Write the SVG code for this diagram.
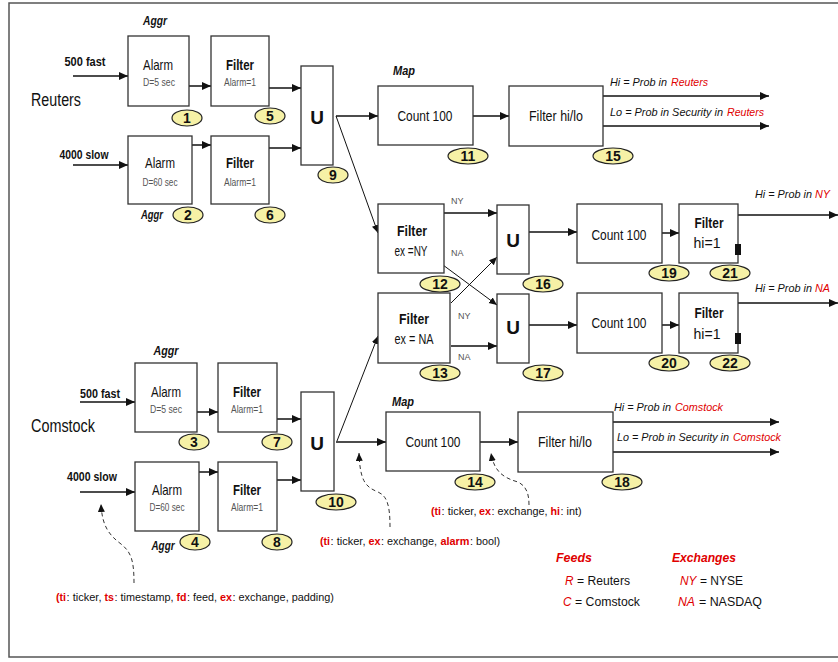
<svg xmlns="http://www.w3.org/2000/svg" width="838" height="662" viewBox="0 0 838 662">
<style>
text{font-family:"Liberation Sans",Arial,sans-serif;fill:#111}
.box{fill:#fff;stroke:#333;stroke-width:1.3}
.ell{fill:#f6f1a6;stroke:#222;stroke-width:1.2}
.num{font-size:14px;font-weight:bold;text-anchor:middle}
.t14{font-size:14px;text-anchor:middle}
.a15{font-size:15px;text-anchor:middle}
.b14{font-size:14px;font-weight:bold;text-anchor:middle}
.sub{font-size:11px;fill:#555;text-anchor:middle}
.u{font-size:19px;font-weight:bold;text-anchor:middle}
.in{font-size:13px;font-weight:bold;text-anchor:middle}
.tag{font-size:12px;font-weight:bold;font-style:italic;text-anchor:middle}
.out{font-size:11.5px;font-style:italic}
.outr{font-size:11.5px;font-style:italic;fill:#e00000}
.small{font-size:9px;fill:#555}
.arr{stroke:#111;stroke-width:1.5;fill:none}
.thin{stroke:#111;stroke-width:1;fill:none}
.dash{stroke:#333;stroke-width:1;fill:none;stroke-dasharray:4,3}
.note{font-size:11.3px}
.rb{font-size:11.3px;fill:#e00000;font-weight:bold}
.lg{font-size:12.5px}
.lr{font-size:12.5px;font-style:italic;fill:#e00000}
.lh{font-size:13px;font-weight:bold;font-style:italic;fill:#e00000}
</style>
<defs>
<marker id="ah" markerUnits="userSpaceOnUse" markerWidth="10" markerHeight="10" refX="9" refY="4" orient="auto">
<path d="M0,0 L9,4 L0,8 z" fill="#111"/>
</marker>
<marker id="ahs" markerUnits="userSpaceOnUse" markerWidth="10" markerHeight="10" refX="8" refY="3.5" orient="auto">
<path d="M0,0 L8,3.5 L0,7 z" fill="#111"/>
</marker>
</defs>
<rect x="9" y="3" width="900" height="654" fill="#fff" stroke="#555" stroke-width="1.5"/>

<text x="31" y="106" style="font-size:18px" textLength="50" lengthAdjust="spacingAndGlyphs">Reuters</text>
<text x="31" y="432" style="font-size:18px" textLength="64" lengthAdjust="spacingAndGlyphs">Comstock</text>
<text class="in" x="85" y="66" textLength="41" lengthAdjust="spacingAndGlyphs">500 fast</text>
<text class="in" x="84" y="159" textLength="49" lengthAdjust="spacingAndGlyphs">4000 slow</text>
<text class="in" x="100" y="398" textLength="40" lengthAdjust="spacingAndGlyphs">500 fast</text>
<text class="in" x="92" y="481" textLength="50" lengthAdjust="spacingAndGlyphs">4000 slow</text>
<text class="tag" x="155" y="25" textLength="24" lengthAdjust="spacingAndGlyphs">Aggr</text>
<text class="tag" x="152" y="219" textLength="22" lengthAdjust="spacingAndGlyphs">Aggr</text>
<text class="tag" x="166" y="355" textLength="25" lengthAdjust="spacingAndGlyphs">Aggr</text>
<text class="tag" x="163" y="550" textLength="23" lengthAdjust="spacingAndGlyphs">Aggr</text>
<text class="tag" x="404" y="75" textLength="22" lengthAdjust="spacingAndGlyphs">Map</text>
<text class="tag" x="403" y="406" textLength="22" lengthAdjust="spacingAndGlyphs">Map</text>

<g id="connectors">
<line class="arr" x1="73" y1="76" x2="128" y2="76" marker-end="url(#ah)"/>
<line class="arr" x1="73" y1="165" x2="128" y2="165" marker-end="url(#ah)"/>
<line class="arr" x1="189" y1="86" x2="211" y2="86" marker-end="url(#ah)"/>
<line class="arr" x1="191" y1="145" x2="211" y2="145" marker-end="url(#ah)"/>
<line class="arr" x1="269" y1="88" x2="301" y2="88" marker-end="url(#ah)"/>
<line class="arr" x1="269" y1="148" x2="301" y2="148" marker-end="url(#ah)"/>
<line class="arr" x1="336" y1="116" x2="378" y2="116" marker-end="url(#ah)"/>
<line class="thin" x1="336" y1="116" x2="378" y2="233" marker-end="url(#ahs)"/>
<line class="arr" x1="473" y1="116" x2="509" y2="116" marker-end="url(#ah)"/>
<line class="arr" x1="603" y1="96" x2="769" y2="96" marker-end="url(#ah)"/>
<line class="arr" x1="603" y1="126" x2="769" y2="126" marker-end="url(#ah)"/>
<line class="arr" x1="441" y1="213" x2="497" y2="213" marker-end="url(#ah)"/>
<line class="thin" x1="443" y1="265" x2="497" y2="305" marker-end="url(#ahs)"/>
<line class="thin" x1="451" y1="303" x2="497" y2="257" marker-end="url(#ahs)"/>
<line class="arr" x1="451" y1="346" x2="497" y2="346" marker-end="url(#ah)"/>
<line class="arr" x1="529" y1="232" x2="577" y2="232" marker-end="url(#ah)"/>
<line class="arr" x1="529" y1="325" x2="577" y2="325" marker-end="url(#ah)"/>
<line class="arr" x1="662" y1="233" x2="679" y2="233" marker-end="url(#ah)"/>
<line class="arr" x1="662" y1="325" x2="679" y2="325" marker-end="url(#ah)"/>
<line class="arr" x1="738" y1="215" x2="838" y2="215" marker-end="url(#ah)"/>
<line class="arr" x1="738" y1="303" x2="838" y2="303" marker-end="url(#ah)"/>
<line class="arr" x1="80" y1="402" x2="135" y2="402" marker-end="url(#ah)"/>
<line class="arr" x1="80" y1="492" x2="135" y2="492" marker-end="url(#ah)"/>
<line class="arr" x1="197" y1="412" x2="218" y2="412" marker-end="url(#ah)"/>
<line class="arr" x1="197" y1="472" x2="218" y2="472" marker-end="url(#ah)"/>
<line class="arr" x1="277" y1="419" x2="301" y2="419" marker-end="url(#ah)"/>
<line class="arr" x1="277" y1="480" x2="301" y2="480" marker-end="url(#ah)"/>
<line class="arr" x1="336" y1="442" x2="386" y2="442" marker-end="url(#ah)"/>
<line class="thin" x1="337" y1="441" x2="378" y2="336" marker-end="url(#ahs)"/>
<line class="arr" x1="480" y1="442" x2="518" y2="442" marker-end="url(#ah)"/>
<line class="arr" x1="613" y1="422" x2="779" y2="422" marker-end="url(#ah)"/>
<line class="arr" x1="613" y1="452" x2="779" y2="452" marker-end="url(#ah)"/>
<path class="dash" d="M134,583 C134,560 131,552 121,544 C109,535 102,526 101,504" marker-end="url(#ahs)"/>
<path class="dash" d="M390,527 C390,505 387,496 378,492 C366,487 360,482 359,453" marker-end="url(#ahs)"/>
<path class="dash" d="M529,505 C529,493 526,486 518,482 C504,478 494,472 491,453" marker-end="url(#ahs)"/>
</g>

<text class="small" x="451" y="204">NY</text>
<text class="small" x="451" y="256">NA</text>
<text class="small" x="458" y="319">NY</text>
<text class="small" x="458" y="360">NA</text>

<text class="out" x="610" y="86" textLength="57" lengthAdjust="spacingAndGlyphs">Hi = Prob in</text>
<text class="outr" x="671" y="86" textLength="37" lengthAdjust="spacingAndGlyphs">Reuters</text>
<text class="out" x="610" y="116" textLength="113" lengthAdjust="spacingAndGlyphs">Lo = Prob in Security in</text>
<text class="outr" x="727" y="116" textLength="37" lengthAdjust="spacingAndGlyphs">Reuters</text>
<text class="out" x="755" y="198" textLength="57" lengthAdjust="spacingAndGlyphs">Hi = Prob in</text>
<text class="outr" x="815" y="198" textLength="15" lengthAdjust="spacingAndGlyphs">NY</text>
<text class="out" x="755" y="292" textLength="57" lengthAdjust="spacingAndGlyphs">Hi = Prob in</text>
<text class="outr" x="815" y="292" textLength="15" lengthAdjust="spacingAndGlyphs">NA</text>
<text class="out" x="614" y="411" textLength="57" lengthAdjust="spacingAndGlyphs">Hi = Prob in</text>
<text class="outr" x="675" y="411" textLength="48" lengthAdjust="spacingAndGlyphs">Comstock</text>
<text class="out" x="617" y="441" textLength="112" lengthAdjust="spacingAndGlyphs">Lo = Prob in Security in</text>
<text class="outr" x="733" y="441" textLength="48" lengthAdjust="spacingAndGlyphs">Comstock</text>

<g id="n1"><rect class="box" x="128" y="36" width="61" height="70"/><text class="a15" x="158" y="70" textLength="30" lengthAdjust="spacingAndGlyphs">Alarm</text><text class="sub" x="159" y="86" textLength="32" lengthAdjust="spacingAndGlyphs">D=5 sec</text><ellipse class="ell" cx="187" cy="118" rx="15" ry="8"/><text class="num" x="187" y="123">1</text></g>
<g id="n2"><rect class="box" x="128" y="136" width="64" height="68"/><text class="a15" x="160" y="168" textLength="30" lengthAdjust="spacingAndGlyphs">Alarm</text><text class="sub" x="160" y="186" textLength="35" lengthAdjust="spacingAndGlyphs">D=60 sec</text><ellipse class="ell" cx="188" cy="215" rx="15" ry="8"/><text class="num" x="188" y="220">2</text></g>
<g id="n5"><rect class="box" x="211" y="36" width="58" height="70"/><text class="b14" x="240" y="70" textLength="28" lengthAdjust="spacingAndGlyphs">Filter</text><text class="sub" x="240" y="86" textLength="32" lengthAdjust="spacingAndGlyphs">Alarm=1</text><ellipse class="ell" cx="270" cy="116" rx="15" ry="8"/><text class="num" x="270" y="121">5</text></g>
<g id="n6"><rect class="box" x="211" y="136" width="58" height="68"/><text class="b14" x="240" y="168" textLength="28" lengthAdjust="spacingAndGlyphs">Filter</text><text class="sub" x="240" y="186" textLength="32" lengthAdjust="spacingAndGlyphs">Alarm=1</text><ellipse class="ell" cx="270" cy="215" rx="15" ry="8"/><text class="num" x="270" y="220">6</text></g>
<g id="n9"><rect class="box" x="301" y="66" width="32" height="99"/><text class="u" x="317" y="124">U</text><ellipse class="ell" cx="333" cy="175" rx="15" ry="8"/><text class="num" x="333" y="180">9</text></g>
<g id="n11"><rect class="box" x="378" y="86" width="95" height="59"/><text class="t14" x="425" y="121" textLength="55" lengthAdjust="spacingAndGlyphs">Count 100</text><ellipse class="ell" cx="468" cy="156" rx="20" ry="8"/><text class="num" x="468" y="161">11</text></g>
<g id="n15"><rect class="box" x="509" y="86" width="94" height="60"/><text class="t14" x="556" y="121" textLength="54" lengthAdjust="spacingAndGlyphs">Filter hi/lo</text><ellipse class="ell" cx="613" cy="156" rx="20" ry="8"/><text class="num" x="613" y="161">15</text></g>
<g id="n12"><rect class="box" x="378" y="204" width="66" height="69"/><text class="b14" x="412" y="236" textLength="30" lengthAdjust="spacingAndGlyphs">Filter</text><text class="t14" x="411" y="256" textLength="33" lengthAdjust="spacingAndGlyphs">ex =NY</text><ellipse class="ell" cx="440" cy="284" rx="20" ry="8"/><text class="num" x="440" y="289">12</text></g>
<g id="n13"><rect class="box" x="378" y="293" width="72" height="70"/><text class="b14" x="414" y="324" textLength="30" lengthAdjust="spacingAndGlyphs">Filter</text><text class="t14" x="414" y="344" textLength="39" lengthAdjust="spacingAndGlyphs">ex = NA</text><ellipse class="ell" cx="440" cy="373" rx="20" ry="8"/><text class="num" x="440" y="378">13</text></g>
<g id="n16"><rect class="box" x="497" y="205" width="32" height="69"/><text class="u" x="513" y="247">U</text><ellipse class="ell" cx="543" cy="284" rx="20" ry="8"/><text class="num" x="543" y="289">16</text></g>
<g id="n17"><rect class="box" x="497" y="294" width="32" height="69"/><text class="u" x="513" y="334">U</text><ellipse class="ell" cx="543" cy="373" rx="20" ry="8"/><text class="num" x="543" y="378">17</text></g>
<g id="n19"><rect class="box" x="577" y="204" width="85" height="59"/><text class="t14" x="619" y="240" textLength="55" lengthAdjust="spacingAndGlyphs">Count 100</text><ellipse class="ell" cx="669" cy="273" rx="20" ry="8"/><text class="num" x="669" y="278">19</text></g>
<g id="n20"><rect class="box" x="577" y="293" width="85" height="60"/><text class="t14" x="619" y="328" textLength="55" lengthAdjust="spacingAndGlyphs">Count 100</text><ellipse class="ell" cx="669" cy="363" rx="20" ry="8"/><text class="num" x="669" y="368">20</text></g>
<g id="n21"><rect class="box" x="679" y="204" width="59" height="59"/><text class="b14" x="709" y="228" textLength="29" lengthAdjust="spacingAndGlyphs">Filter</text><text class="t14" x="707" y="248" textLength="27" lengthAdjust="spacingAndGlyphs">hi=1</text><rect x="735" y="244" width="6" height="11" fill="#111"/><ellipse class="ell" cx="730" cy="273" rx="20" ry="8"/><text class="num" x="730" y="278">21</text></g>
<g id="n22"><rect class="box" x="679" y="293" width="59" height="60"/><text class="b14" x="709" y="318" textLength="29" lengthAdjust="spacingAndGlyphs">Filter</text><text class="t14" x="707" y="339" textLength="27" lengthAdjust="spacingAndGlyphs">hi=1</text><rect x="735" y="333" width="6" height="11" fill="#111"/><ellipse class="ell" cx="730" cy="363" rx="20" ry="8"/><text class="num" x="730" y="368">22</text></g>
<g id="n3"><rect class="box" x="135" y="363" width="62" height="69"/><text class="a15" x="166" y="397" textLength="30" lengthAdjust="spacingAndGlyphs">Alarm</text><text class="sub" x="166" y="413" textLength="32" lengthAdjust="spacingAndGlyphs">D=5 sec</text><ellipse class="ell" cx="194" cy="442" rx="15" ry="8"/><text class="num" x="194" y="447">3</text></g>
<g id="n4"><rect class="box" x="135" y="462" width="64" height="69"/><text class="a15" x="167" y="495" textLength="30" lengthAdjust="spacingAndGlyphs">Alarm</text><text class="sub" x="167" y="511" textLength="35" lengthAdjust="spacingAndGlyphs">D=60 sec</text><ellipse class="ell" cx="195" cy="542" rx="15" ry="8"/><text class="num" x="195" y="547">4</text></g>
<g id="n7"><rect class="box" x="218" y="363" width="59" height="69"/><text class="b14" x="247" y="397" textLength="28" lengthAdjust="spacingAndGlyphs">Filter</text><text class="sub" x="247" y="413" textLength="32" lengthAdjust="spacingAndGlyphs">Alarm=1</text><ellipse class="ell" cx="277" cy="442" rx="15" ry="8"/><text class="num" x="277" y="447">7</text></g>
<g id="n8"><rect class="box" x="218" y="462" width="59" height="69"/><text class="b14" x="247" y="495" textLength="28" lengthAdjust="spacingAndGlyphs">Filter</text><text class="sub" x="247" y="511" textLength="32" lengthAdjust="spacingAndGlyphs">Alarm=1</text><ellipse class="ell" cx="277" cy="542" rx="15" ry="8"/><text class="num" x="277" y="547">8</text></g>
<g id="n10"><rect class="box" x="301" y="392" width="33" height="99"/><text class="u" x="317" y="450">U</text><ellipse class="ell" cx="336" cy="502" rx="20" ry="8"/><text class="num" x="336" y="507">10</text></g>
<g id="n14"><rect class="box" x="386" y="412" width="94" height="59"/><text class="t14" x="433" y="447" textLength="55" lengthAdjust="spacingAndGlyphs">Count 100</text><ellipse class="ell" cx="475" cy="482" rx="20" ry="8"/><text class="num" x="475" y="487">14</text></g>
<g id="n18"><rect class="box" x="518" y="412" width="95" height="60"/><text class="t14" x="565" y="447" textLength="54" lengthAdjust="spacingAndGlyphs">Filter hi/lo</text><ellipse class="ell" cx="622" cy="482" rx="20" ry="8"/><text class="num" x="622" y="487">18</text></g>

<text class="rb" x="431" y="515" textLength="10" lengthAdjust="spacingAndGlyphs">(ti</text>
<text class="note" x="441.5" y="515" textLength="35" lengthAdjust="spacingAndGlyphs">: ticker,</text>
<text class="rb" x="479" y="515" textLength="12" lengthAdjust="spacingAndGlyphs">ex</text>
<text class="note" x="491.5" y="515" textLength="56" lengthAdjust="spacingAndGlyphs">: exchange,</text>
<text class="rb" x="550.5" y="515" textLength="9.5" lengthAdjust="spacingAndGlyphs">hi</text>
<text class="note" x="560.5" y="515" textLength="21" lengthAdjust="spacingAndGlyphs">: int)</text>

<text class="rb" x="320" y="545" textLength="10" lengthAdjust="spacingAndGlyphs">(ti</text>
<text class="note" x="330.5" y="545" textLength="35" lengthAdjust="spacingAndGlyphs">: ticker,</text>
<text class="rb" x="368.5" y="545" textLength="12" lengthAdjust="spacingAndGlyphs">ex</text>
<text class="note" x="381" y="545" textLength="56" lengthAdjust="spacingAndGlyphs">: exchange,</text>
<text class="rb" x="440.5" y="545" textLength="29" lengthAdjust="spacingAndGlyphs">alarm</text>
<text class="note" x="470" y="545" textLength="30" lengthAdjust="spacingAndGlyphs">: bool)</text>

<text class="rb" x="56" y="601" textLength="10" lengthAdjust="spacingAndGlyphs">(ti</text>
<text class="note" x="66.5" y="601" textLength="35" lengthAdjust="spacingAndGlyphs">: ticker,</text>
<text class="rb" x="104.5" y="601" textLength="9.5" lengthAdjust="spacingAndGlyphs">ts</text>
<text class="note" x="114.5" y="601" textLength="59" lengthAdjust="spacingAndGlyphs">: timestamp,</text>
<text class="rb" x="176.5" y="601" textLength="10" lengthAdjust="spacingAndGlyphs">fd</text>
<text class="note" x="187" y="601" textLength="30" lengthAdjust="spacingAndGlyphs">: feed,</text>
<text class="rb" x="220" y="601" textLength="12" lengthAdjust="spacingAndGlyphs">ex</text>
<text class="note" x="232.5" y="601" textLength="101.5" lengthAdjust="spacingAndGlyphs">: exchange, padding)</text>

<g id="legend">
<text class="lh" x="556" y="562" textLength="36" lengthAdjust="spacingAndGlyphs">Feeds</text>
<text class="lh" x="672" y="562" textLength="64" lengthAdjust="spacingAndGlyphs">Exchanges</text>
<text class="lr" x="565" y="585" textLength="8.5" lengthAdjust="spacingAndGlyphs">R</text>
<text class="lg" x="577" y="585" textLength="53" lengthAdjust="spacingAndGlyphs">= Reuters</text>
<text class="lr" x="563" y="606" textLength="8.5" lengthAdjust="spacingAndGlyphs">C</text>
<text class="lg" x="575" y="606" textLength="65" lengthAdjust="spacingAndGlyphs">= Comstock</text>
<text class="lr" x="680" y="585" textLength="16.5" lengthAdjust="spacingAndGlyphs">NY</text>
<text class="lg" x="700" y="585" textLength="43" lengthAdjust="spacingAndGlyphs">= NYSE</text>
<text class="lr" x="678" y="606" textLength="17" lengthAdjust="spacingAndGlyphs">NA</text>
<text class="lg" x="699" y="606" textLength="63" lengthAdjust="spacingAndGlyphs">= NASDAQ</text>
</g>
</svg>
